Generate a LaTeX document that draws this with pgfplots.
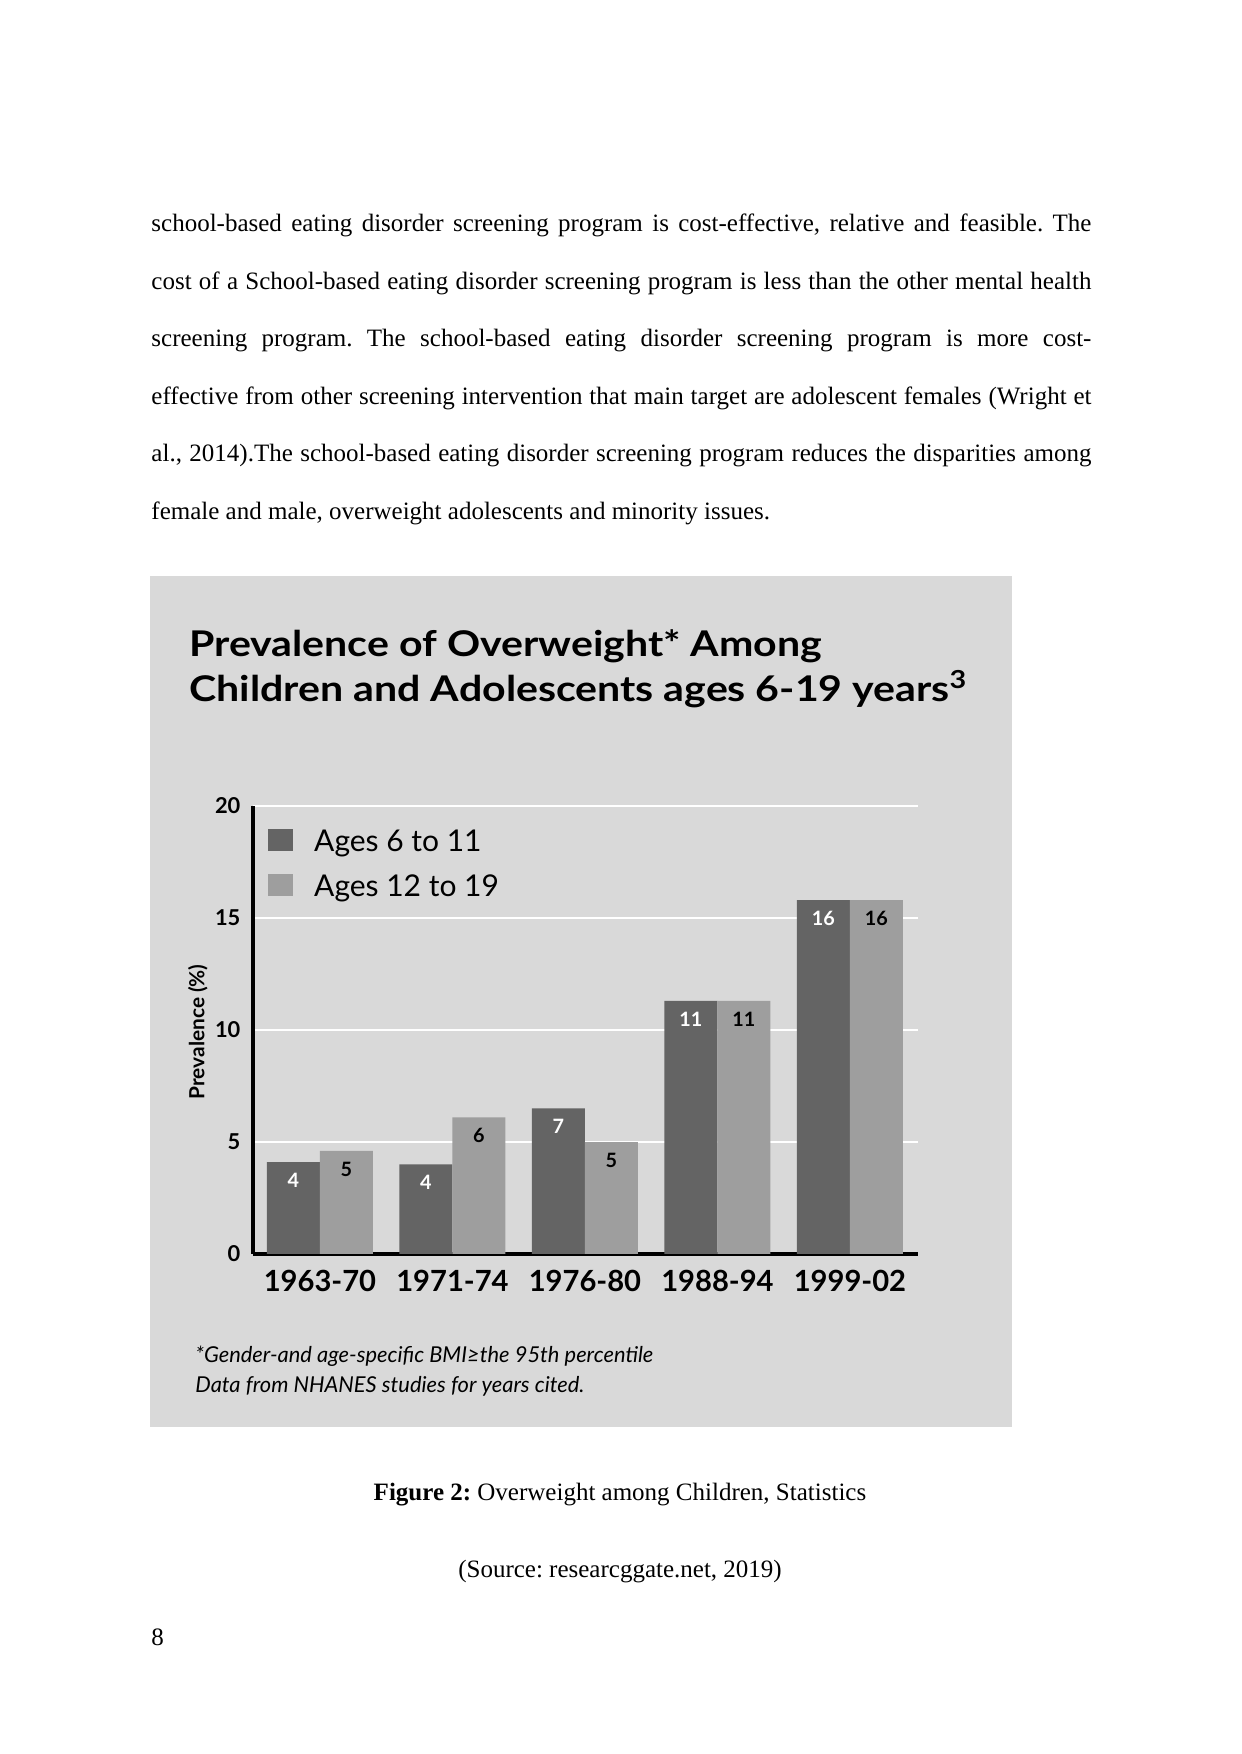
\documentclass[border=0pt]{standalone}
\usepackage{fontspec}
\setmainfont{Liberation Serif}
\newfontfamily\gill{Lato}
\newfontfamily\gilltitle{Lato}[FakeStretch=1.16]
\usepackage{pgfplots}
\pgfplotsset{compat=1.18}

\definecolor{chartbg}{RGB}{217,217,217}
\definecolor{darkbar}{RGB}{100,100,100}
\definecolor{lightbar}{RGB}{158,158,158}

\begin{document}
\frenchspacing
\begin{tikzpicture}
\useasboundingbox[fill=white] (0,0) rectangle (595.68bp,841.92bp);

% body text of the page
\node[anchor=base west, inner sep=0pt, text width=451.2bp, align=justify,
      font=\fontsize{12bp}{27.6bp}\selectfont] at (72.5bp,730.56bp)
{school-based eating disorder screening program is cost-effective, relative and feasible. The\linebreak
cost of a School-based eating disorder screening program is less than the other mental health\linebreak
screening program. The school-based eating disorder screening program is more cost-\linebreak{}effective
from other screening intervention that main target are adolescent females (Wright et\linebreak
al., 2014).The school-based eating disorder screening program reduces the disparities among\linebreak
female and male, overweight adolescents and minority issues.};

% chart panel
\fill[chartbg] (72bp,157bp) rectangle (485.8bp,565.4bp);

\node[anchor=base west, inner sep=0pt, font=\gilltitle\bfseries\fontsize{17bp}{20bp}\selectfont]
  at (90.7bp,526.6bp) {Prevalence of Overweight* Among};
\node[anchor=base west, inner sep=0pt, font=\gilltitle\bfseries\fontsize{17bp}{20bp}\selectfont]
  at (90.7bp,505bp) {Children and Adolescents ages 6-19 years\textsuperscript{3}};

\begin{axis}[
  at={(121.4bp,240bp)}, anchor=south west,
  scale only axis, width=319.2bp, height=215bp,
  xmin=-0.506, xmax=4.513, ymin=0, ymax=20,
  ybar=0pt, bar width=25.44bp,
  axis x line=bottom, axis y line=left,
  axis line style={-, line width=1.6bp, black},
  xtick=data,
  xticklabels={1963-70,1971-74,1976-80,1988-94,1999-02},
  ytick={0,5,10,15,20},
  /pgf/number format/assume math mode=true,
  major tick length=0pt,
  ymajorgrids, grid style={white, line width=1.2bp},
  xticklabel style={font=\gill\bfseries\fontsize{14bp}{17bp}\selectfont, inner sep=0pt, anchor=north, yshift=-7.7bp},
  yticklabel style={font=\gill\bfseries\fontsize{10.5bp}{12bp}\selectfont, inner sep=0pt, anchor=east, xshift=-5.8bp},
  ylabel={Prevalence (\%)},
  ylabel style={at={(axis description cs:-0.0827,0.496)}, anchor=center, font=\gill\bfseries\fontsize{10bp}{12bp}\selectfont},
  legend cell align=left,
  legend style={at={(axis description cs:0.0226,0.949)}, anchor=north west, draw=none, fill=none,
    inner sep=0pt, font=\gill\fontsize{14.4bp}{17bp}\selectfont,
    nodes={inner sep=0pt, text height=10.6bp, text depth=0pt},
    /tikz/every odd column/.append style={column sep=10bp},
    row sep=11bp},
  legend image code/.code={\fill[#1] (0bp,-5.3bp) rectangle (12bp,5.3bp);},
  point meta=explicit symbolic,
  nodes near coords,
  every node near coord/.append style={anchor=north, yshift=-5.2bp, inner sep=0pt,
    font=\gill\bfseries\fontsize{9.5bp}{10bp}\selectfont},
]
\addplot[fill=darkbar, draw=none, every node near coord/.append style={text=white}]
  coordinates {(0,4.1)[4] (1,4.0)[4] (2,6.5)[7] (3,11.3)[11] (4,15.8)[16]};
\addplot[fill=lightbar, draw=none, every node near coord/.append style={text=black}]
  coordinates {(0,4.6)[5] (1,6.1)[6] (2,5.0)[5] (3,11.3)[11] (4,15.8)[16]};
\legend{Ages 6 to 11, Ages 12 to 19}
\end{axis}

\node[anchor=base west, inner sep=0pt, font=\gill\itshape\fontsize{10.5bp}{12bp}\selectfont]
  at (93.6bp,187.7bp) {*Gender-and age-specific BMI≥the 95th percentile};
\node[anchor=base west, inner sep=0pt, font=\gill\itshape\fontsize{10.5bp}{12bp}\selectfont]
  at (93.6bp,173.3bp) {Data from NHANES studies for years cited.};

% caption
\node[anchor=base, inner sep=0pt, font=\fontsize{12bp}{14bp}\selectfont]
  at (297.6bp,121.9bp) {\textbf{Figure 2:} Overweight among Children, Statistics};
\node[anchor=base, inner sep=0pt, font=\fontsize{12bp}{14bp}\selectfont]
  at (297.6bp,84.5bp) {(Source: researcggate.net, 2019)};
\node[anchor=base west, inner sep=0pt, font=\fontsize{12bp}{14bp}\selectfont]
  at (72.5bp,52.3bp) {8};
\end{tikzpicture}
\end{document}
